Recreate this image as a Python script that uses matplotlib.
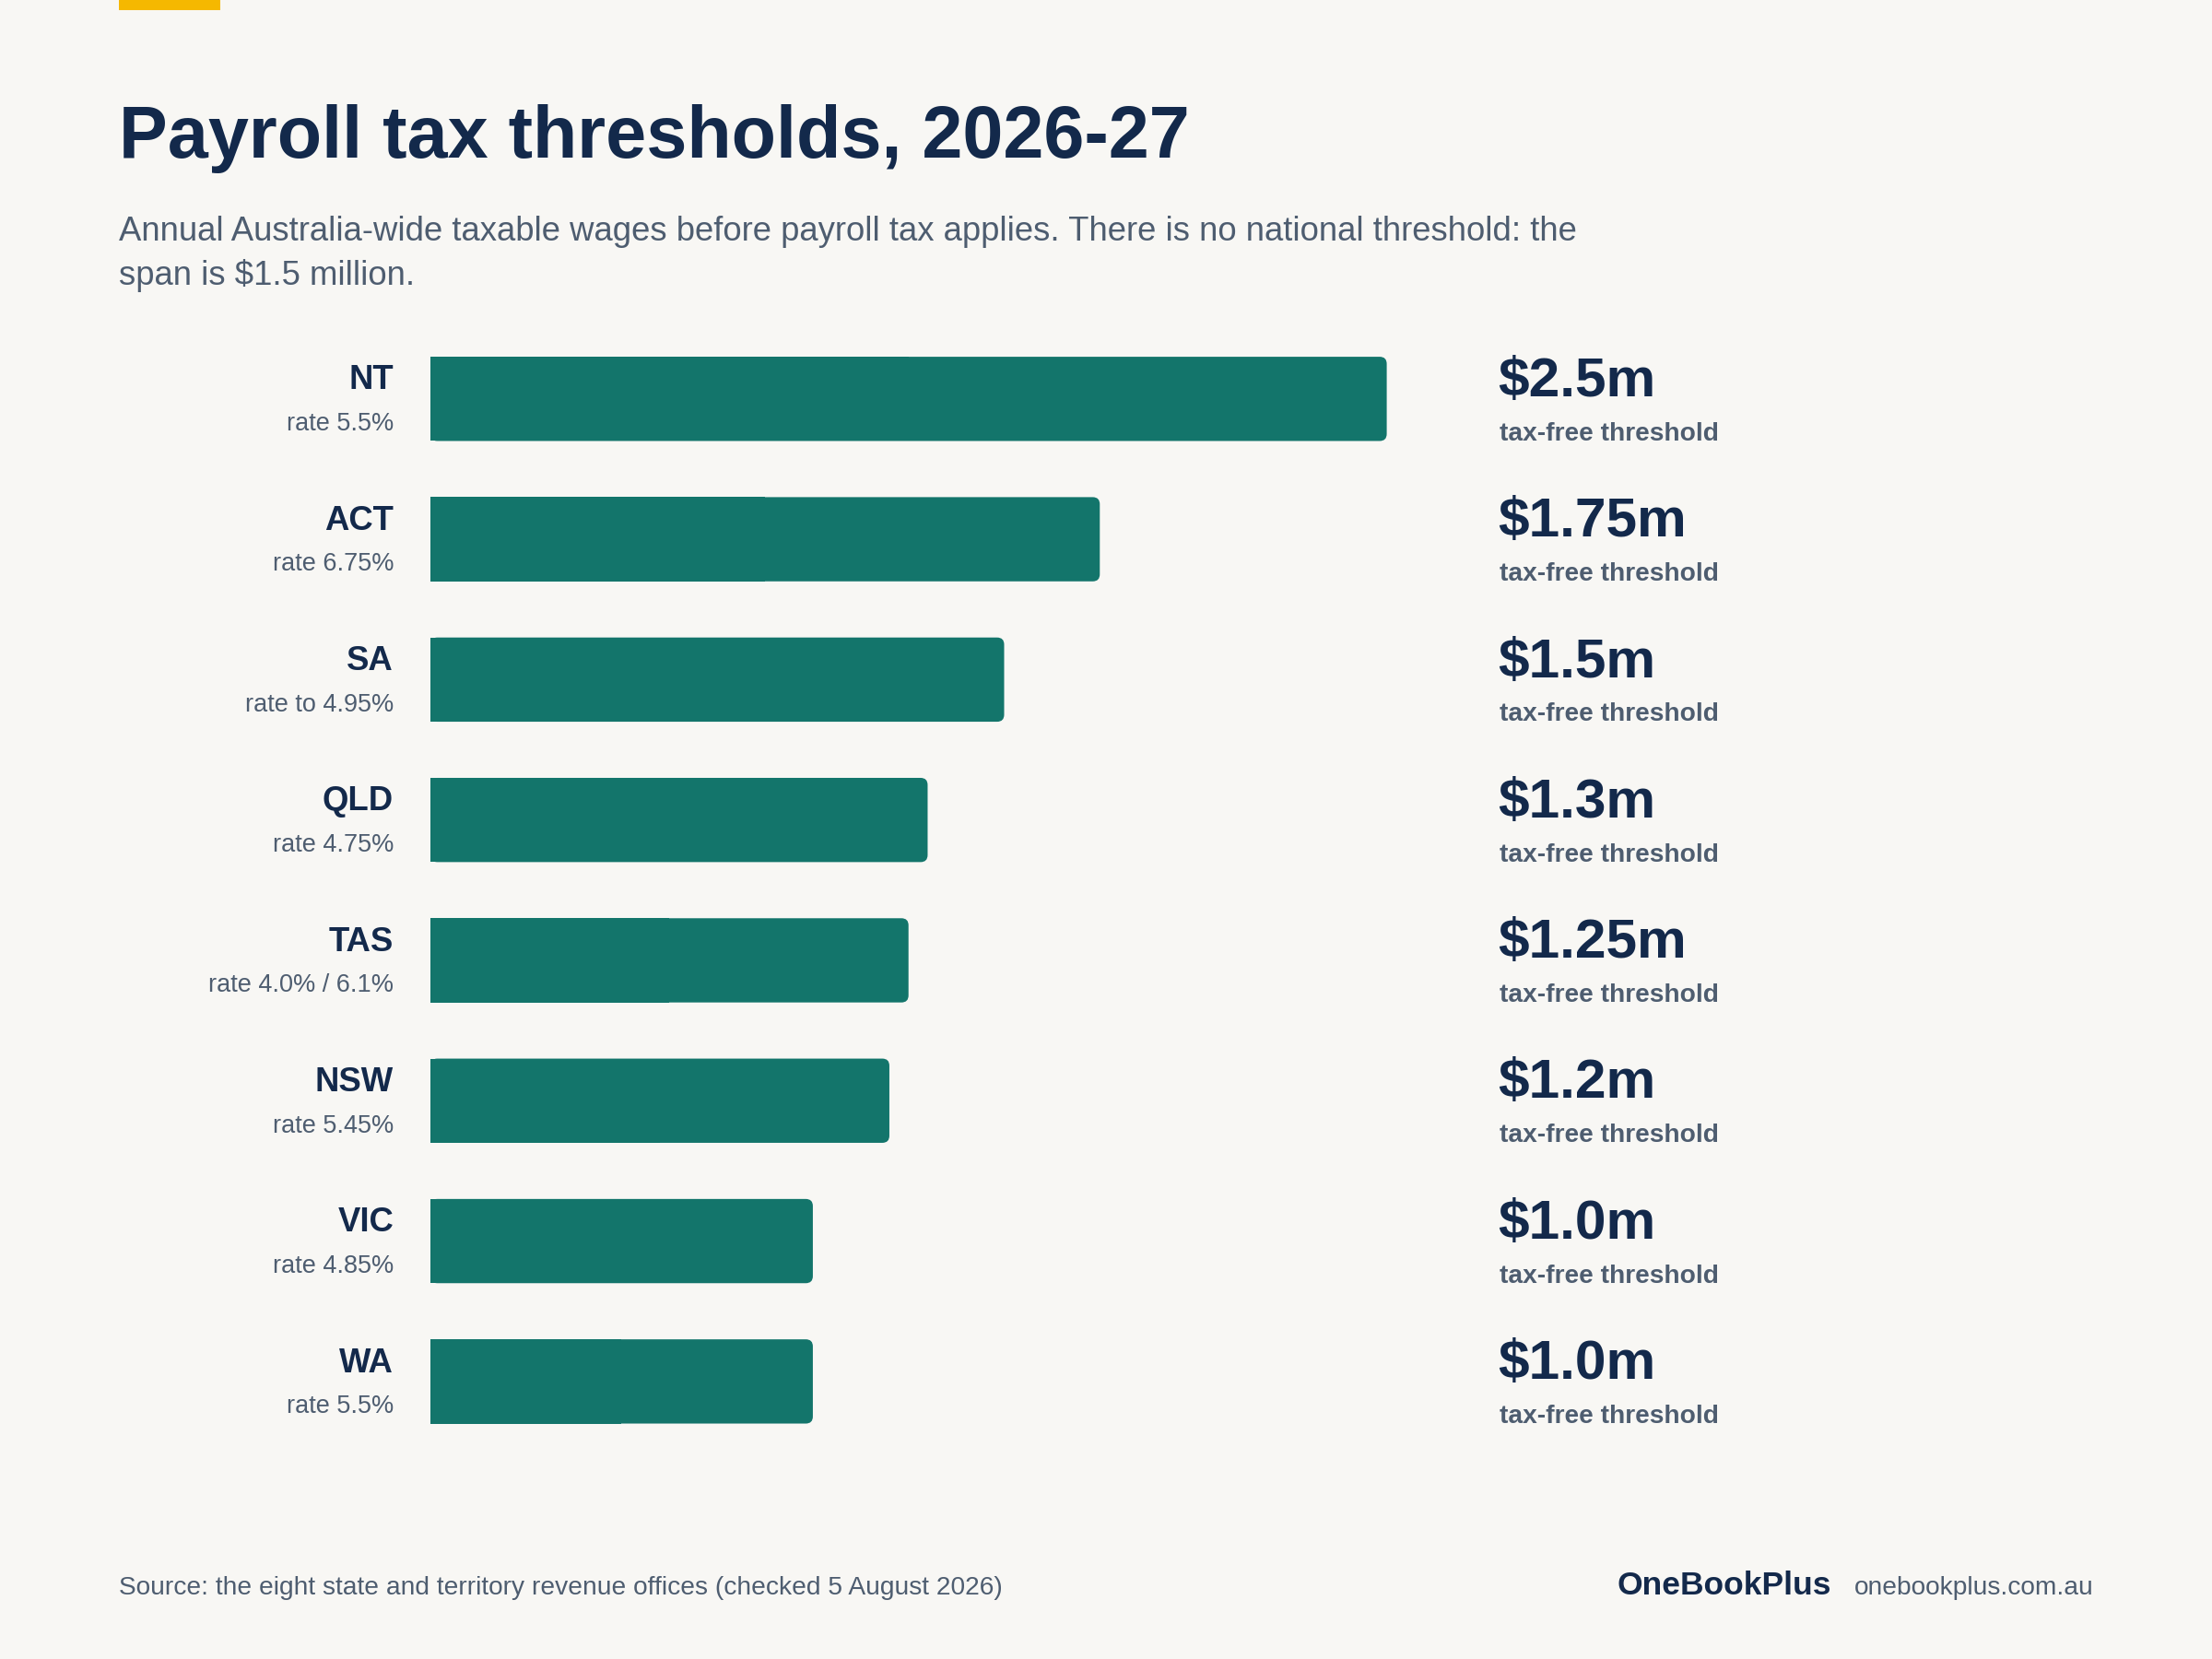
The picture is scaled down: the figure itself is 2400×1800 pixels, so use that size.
import matplotlib
matplotlib.use("Agg")
import matplotlib.pyplot as plt
from matplotlib.patches import FancyBboxPatch, Rectangle

plt.rcParams['font.family'] = ['Liberation Sans', 'DejaVu Sans']

states = ["NT", "ACT", "SA", "QLD", "TAS", "NSW", "VIC", "WA"]
rates = ["rate 5.5%", "rate 6.75%", "rate to 4.95%", "rate 4.75%", "rate 4.0% / 6.1%",
         "rate 5.45%", "rate 4.85%", "rate 5.5%"]
thresholds = [2.5, 1.75, 1.5, 1.3, 1.25, 1.2, 1.0, 1.0]
value_labels = ["$2.5m", "$1.75m", "$1.5m", "$1.3m", "$1.25m", "$1.2m", "$1.0m", "$1.0m"]

BG = "#F8F7F4"; BAR = "#13756B"; NAVY = "#13294B"; GREY = "#4E5D70"
W, H = 1568, 1176

fig = plt.figure(figsize=(16, 12), dpi=150, facecolor=BG)
def fx(x): return x / W
def fy(y): return 1 - y / H

fig.patches.append(Rectangle((fx(84), fy(7)), fx(72), 7 / H, transform=fig.transFigure,
                             facecolor="#F5B800", edgecolor="none"))
fig.text(fx(84), fy(98), "Payroll tax thresholds, 2026-27", fontsize=38, fontweight="bold",
         color=NAVY, va="center")
fig.text(fx(84), fy(180), "Annual Australia-wide taxable wages before payroll tax applies. There is no national threshold: the\nspan is $1.5 million.",
         fontsize=17.5, color=GREY, va="center", linespacing=1.4)

ax = fig.add_axes([fx(305), fy(1029), fx(983 - 305), (1029 - 233) / H])
ax.set_facecolor(BG)
ax.set_xlim(0, 2.5)
ax.set_ylim(len(states) - 0.5, -0.5)
ax.axis("off")

xpp = 2.5 / 678
ypp = 1 / 99.4
h = 0.6
for i, (s, r, v, lab) in enumerate(zip(states, rates, thresholds, value_labels)):
    p = FancyBboxPatch((0, i - h / 2), v, h, boxstyle=f"round,pad=0,rounding_size={5 * xpp}",
                       mutation_aspect=ypp / xpp, facecolor=BAR, edgecolor="none")
    ax.add_patch(p)
    ax.add_patch(Rectangle((0, i - h / 2), v / 2, h, facecolor=BAR, edgecolor="none"))
    ax.text(-26 * xpp, i - 0.13, s, ha="right", va="center", fontsize=17.5, fontweight="bold", color=NAVY)
    ax.text(-26 * xpp, i + 0.18, r, ha="right", va="center", fontsize=13, color=GREY)
    ax.text((1062 - 305) * xpp, i - 0.12, lab, ha="left", va="center", fontsize=29, fontweight="bold", color=NAVY)
    ax.text((1063 - 305) * xpp, i + 0.25, "tax-free threshold", ha="left", va="center", fontsize=13.5,
            fontweight="bold", color=GREY)

fig.text(fx(84), fy(1126), "Source: the eight state and territory revenue offices (checked 5 August 2026)",
         fontsize=13.5, color=GREY, va="center")
fig.text(fx(1484), fy(1126), "onebookplus.com.au", fontsize=13.5, color=GREY, va="center", ha="right")
fig.text(fx(1298), fy(1124), "OneBookPlus", fontsize=17, fontweight="bold", color=NAVY, va="center", ha="right")

fig.savefig("out.png", dpi=150, facecolor=BG)
